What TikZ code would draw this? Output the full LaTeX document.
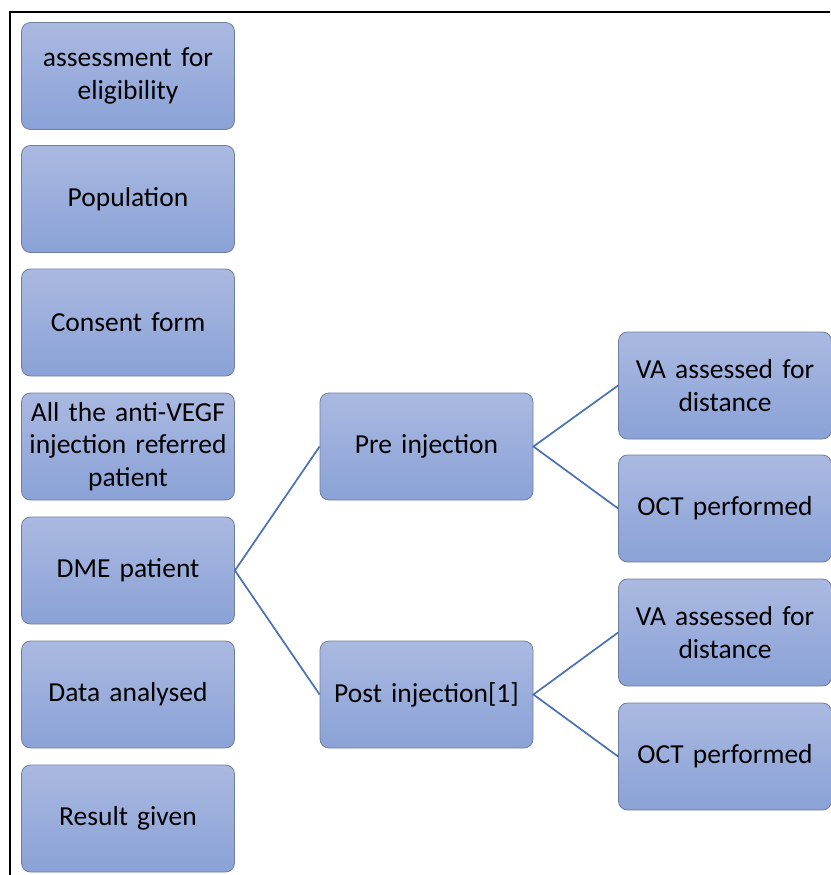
\documentclass[tikz,border=0pt]{standalone}
\usepackage{fontspec}
\setmainfont{Carlito}
\definecolor{boxtop}{HTML}{AAB9E1}
\definecolor{boxbot}{HTML}{8AA2D7}
\definecolor{boxedge}{HTML}{707E9E}
\definecolor{linkblue}{HTML}{4A70B5}
\tikzset{
  box/.style={draw=boxedge, line width=0.8pt, rounded corners=9pt, top color=boxtop, bottom color=boxbot,
    minimum width=213pt, minimum height=107pt, inner sep=2pt, align=center, text width=209pt,
    font=\fontsize{27.5}{32.5}\selectfont, text=black},
  link/.style={draw=linkblue, line width=1.7pt}
}
\begin{document}
\begin{tikzpicture}[x=1pt,y=-1pt]
\useasboundingbox (0,0) rectangle (830,875);
\draw[line width=1.5pt] (10,875) -- (10,12) -- (830,12);
\node[box] (a1) at (128,76) {assessment for\\eligibility};
\node[box] (a2) at (128,199) {Population};
\node[box] (a3) at (128,322.5) {Consent form};
\node[box] (a4) at (128,446.5) {All the anti-VEGF\\injection referred\\patient};
\node[box] (a5) at (128,570.5) {DME patient};
\node[box] (a6) at (128,694.5) {Data analysed};
\node[box] (a7) at (128,818.5) {Result given};
\node[box] (pre) at (426.5,446.5) {Pre injection};
\node[box] (post) at (426.5,694.5) {Post injection[1]};
\node[box] (va1) at (725,385.5) {VA assessed for\\distance};
\node[box] (oct1) at (725,508.5) {OCT performed};
\node[box] (va2) at (725,632.5) {VA assessed for\\distance};
\node[box] (oct2) at (725,756.5) {OCT performed};
\draw[link] (pre.west) -- (a5.east) -- (post.west);
\draw[link] (va1.west) -- (pre.east) -- (oct1.west);
\draw[link] (va2.west) -- (post.east) -- (oct2.west);
\end{tikzpicture}
\end{document}
